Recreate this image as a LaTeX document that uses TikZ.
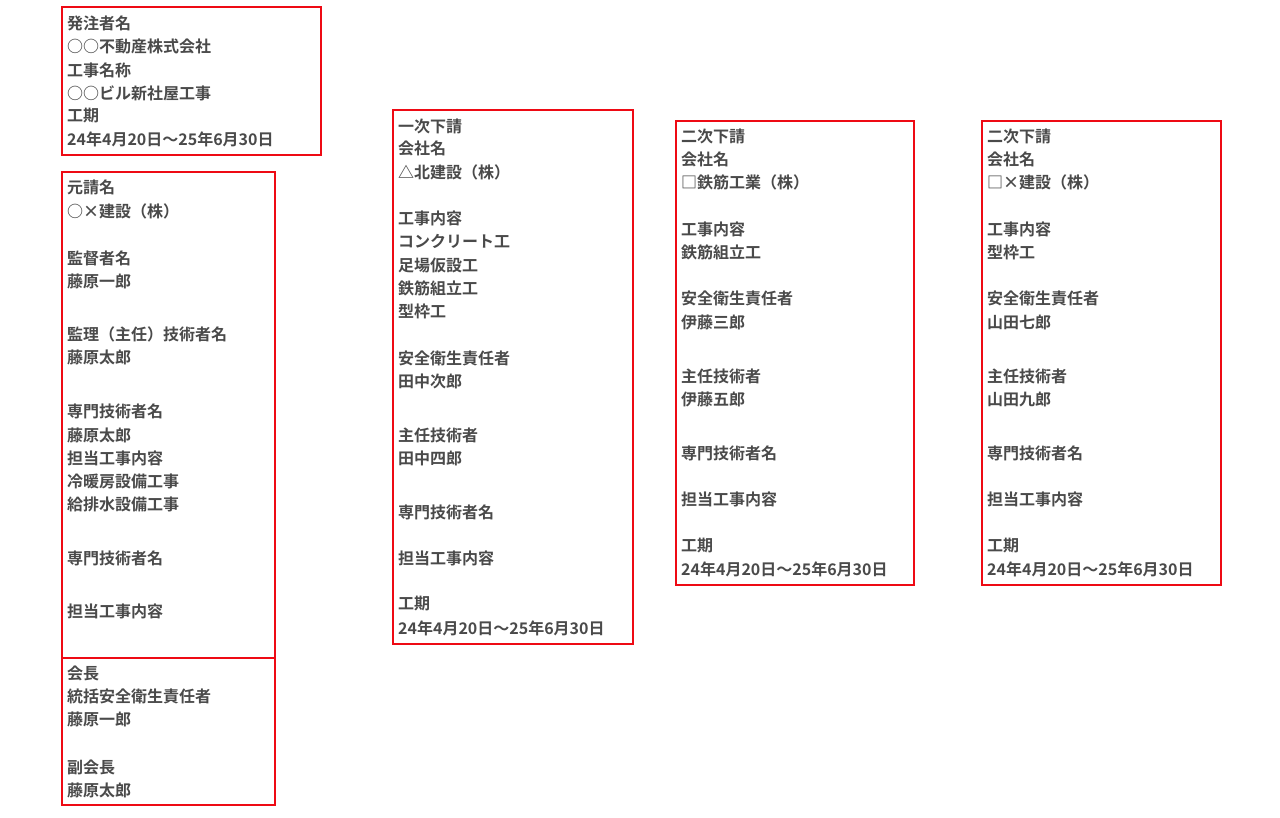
\documentclass[tikz,border=0pt]{standalone}
\usepackage{fontspec}
\newfontfamily\cjk{Noto Sans CJK JP}[BoldFont={Noto Sans CJK JP Bold}]
\definecolor{txtc}{HTML}{4A4A4A}
\definecolor{boxc}{HTML}{EE0A14}
\newcommand\tl[4]{\node[txt] (#1) at (#2,-#3) {#4};}
\begin{document}
\begin{tikzpicture}[x=1pt,y=1pt,
  txt/.style={anchor=west,inner sep=0pt,font=\cjk\bfseries\fontsize{16}{18}\selectfont,text=txtc},
  frame/.style={draw=boxc,line width=1.5pt}]
\useasboundingbox (0,0) rectangle (1280,-817);
\fill[white] (0,0) rectangle (1280,-817);
\draw[frame] (62,-7) rectangle (321,-155);
\draw[frame] (62,-172) rectangle (275,-658);
\draw[frame] (62,-658) rectangle (275,-805);
\draw[frame] (393,-110) rectangle (633,-644);
\draw[frame] (676,-121) rectangle (914,-585);
\draw[frame] (982,-121) rectangle (1221,-585);
% box 1
\tl{a1}{67}{23}{発注者名}
\tl{a2}{67}{46}{○○不動産株式会社}
\tl{a3}{67}{70}{工事名称}
\tl{a4}{67}{93}{○○ビル新社屋工事}
\tl{a5}{67}{116}{工期}
\tl{a6}{67}{139}{24年4月20日～25年6月30日}
% box 2
\tl{b1}{67}{187}{元請名}
\tl{b2}{67}{211}{○×建設（株）}
\tl{b3}{67}{258}{監督者名}
\tl{b4}{67}{281}{藤原一郎}
\tl{b5}{67}{334}{監理（主任）技術者名}
\tl{b6}{67}{357}{藤原太郎}
\tl{b7}{67}{411}{専門技術者名}
\tl{b8}{67}{435}{藤原太郎}
\tl{b9}{67}{458}{担当工事内容}
\tl{b10}{67}{481}{冷暖房設備工事}
\tl{b11}{67}{504}{給排水設備工事}
\tl{b12}{67}{558}{専門技術者名}
\tl{b13}{67}{611}{担当工事内容}
% box 3
\tl{c1}{67}{673}{会長}
\tl{c2}{67}{696}{統括安全衛生責任者}
\tl{c3}{67}{719}{藤原一郎}
\tl{c4}{67}{767}{副会長}
\tl{c5}{67}{790}{藤原太郎}
% box 4
\tl{d1}{398}{126}{一次下請}
\tl{d2}{398}{148}{会社名}
\tl{d3}{398}{172}{△北建設（株）}
\tl{d4}{398}{218}{工事内容}
\tl{d5}{398}{241}{コンクリート工}
\tl{d6}{398}{265}{足場仮設工}
\tl{d7}{398}{288}{鉄筋組立工}
\tl{d8}{398}{311}{型枠工}
\tl{d9}{398}{358}{安全衛生責任者}
\tl{d10}{398}{381}{田中次郎}
\tl{d11}{398}{435}{主任技術者}
\tl{d12}{398}{458}{田中四郎}
\tl{d13}{398}{512}{専門技術者名}
\tl{d14}{398}{558}{担当工事内容}
\tl{d15}{398}{604}{工期}
\tl{d16}{398}{628}{24年4月20日～25年6月30日}
% box 5
\tl{e1}{681}{136}{二次下請}
\tl{e2}{681}{159}{会社名}
\tl{e3}{681}{182}{□鉄筋工業（株）}
\tl{e4}{681}{229}{工事内容}
\tl{e5}{681}{252}{鉄筋組立工}
\tl{e6}{681}{298}{安全衛生責任者}
\tl{e7}{681}{322}{伊藤三郎}
\tl{e8}{681}{376}{主任技術者}
\tl{e9}{681}{399}{伊藤五郎}
\tl{e10}{681}{453}{専門技術者名}
\tl{e11}{681}{499}{担当工事内容}
\tl{e12}{681}{546}{工期}
\tl{e13}{681}{569}{24年4月20日～25年6月30日}
% box 6
\tl{f1}{987}{136}{二次下請}
\tl{f2}{987}{159}{会社名}
\tl{f3}{987}{182}{□×建設（株）}
\tl{f4}{987}{229}{工事内容}
\tl{f5}{987}{252}{型枠工}
\tl{f6}{987}{298}{安全衛生責任者}
\tl{f7}{987}{322}{山田七郎}
\tl{f8}{987}{376}{主任技術者}
\tl{f9}{987}{399}{山田九郎}
\tl{f10}{987}{453}{専門技術者名}
\tl{f11}{987}{499}{担当工事内容}
\tl{f12}{987}{546}{工期}
\tl{f13}{987}{569}{24年4月20日～25年6月30日}
\end{tikzpicture}
\end{document}
